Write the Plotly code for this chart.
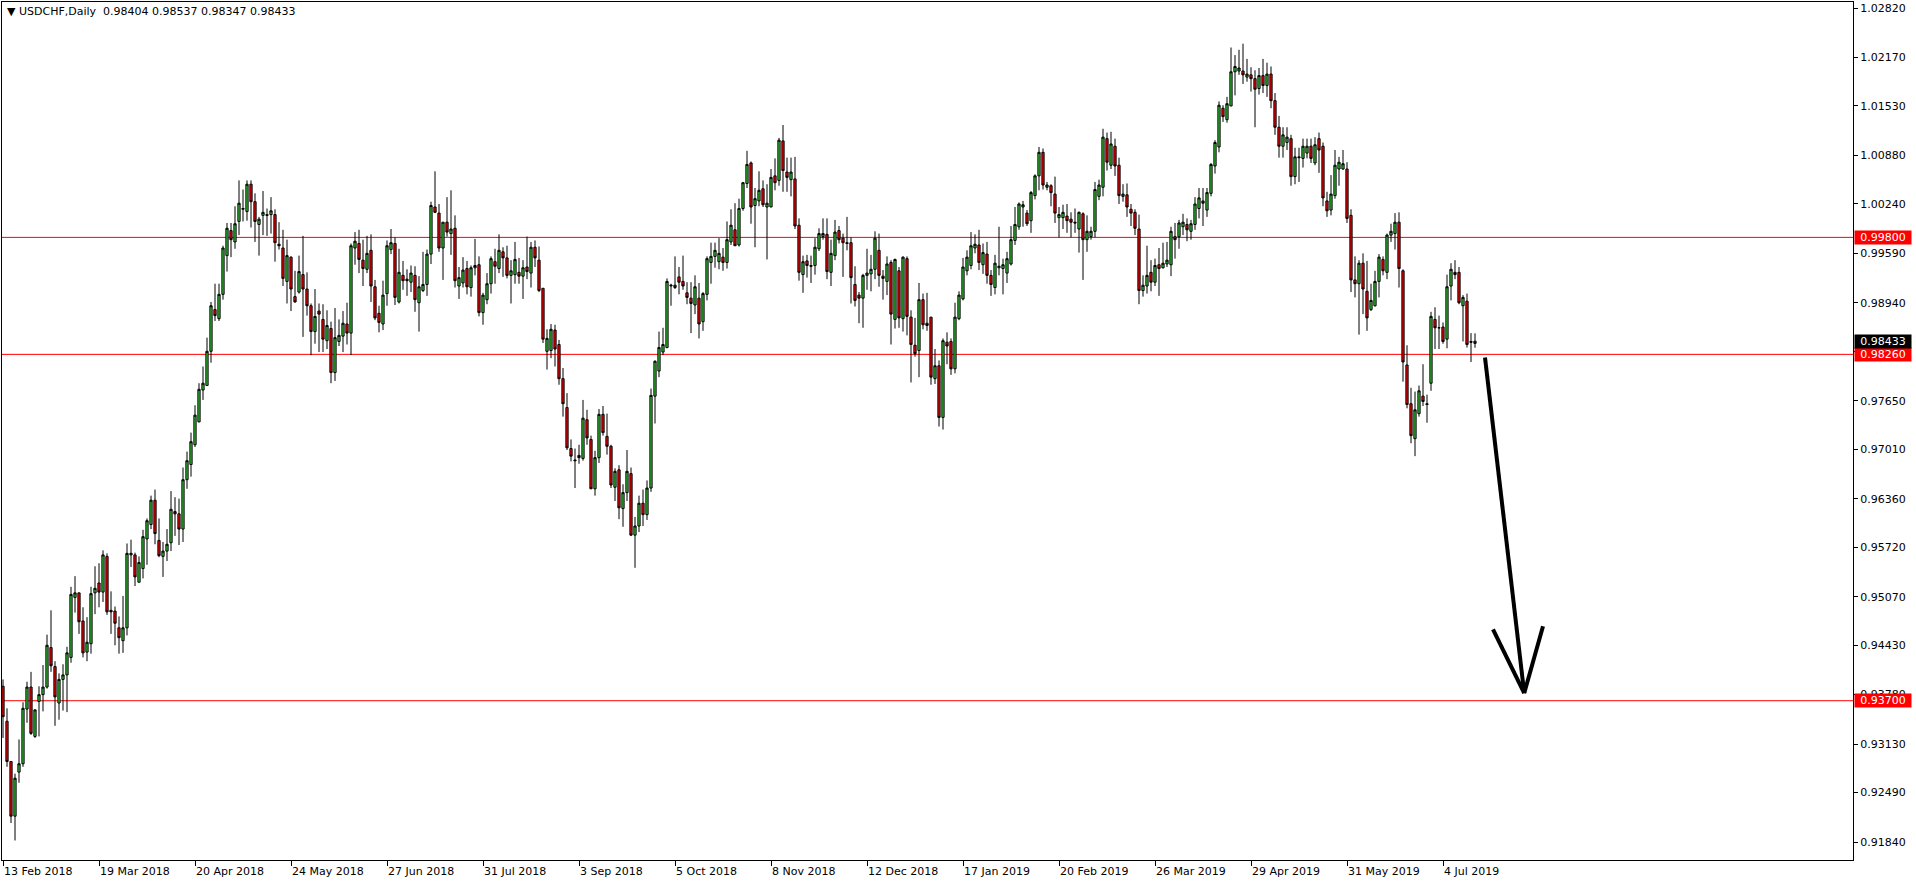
import plotly.graph_objects as go

# ---------------- data (USDCHF daily) ----------------
symbol = "USDCHF,Daily"

opens = [
    .9389, .9343, .9290, .9218, .9276, .9287, .9359, .9388, .9323, .9369,
    .9378, .9388, .9440, .9415, .9367, .9398, .9404, .9427, .9506, .9512,
    .9475, .9434, .9445, .9512, .9525, .9513, .9560, .9489, .9488, .9466,
    .9449, .9466, .9562, .9562, .9526, .9544, .9583, .9602, .9634, .9581,
    .9560, .9567, .9578, .9619, .9616, .9596, .9661, .9681, .9707, .9737,
    .9779, .9785, .9830, .9885, .9873, .9905, .9956, .9989, .9974, 1.0001,
    1.0017, 1.0014, 1.0050, 1.0027, .9997, 1.0009, 1.0010, 1.0010, 1.0010, .9971,
    .9966, .9922, .9954, .9902, .9908, .9931, .9912, .9890, .9856, .9883,
    .9872, .9844, .9860, .9802, .9843, .9850, .9866, .9854, .9966, .9972,
    .9950, .9938, .9963, .9915, .9880, .9866, .9906, .9964, .9972, .9895,
    .9930, .9925, .9921, .9930, .9894, .9910, .9918, .9958, 1.0020, 1.0012,
    .9966, 1.0000, .9985, .9992, .9916, .9920, .9939, .9914, .9940, .9944,
    .9881, .9898, .9919, .9948, .9939, .9961, .9953, .9930, .9931, .9934,
    .9929, .9941, .9933, .9967, .9950, .9913, .9830, .9831, .9858, .9839,
    .9794, .9756, .9702, .9687, .9693, .9689, .9740, .9714, .9649, .9690,
    .9747, .9718, .9705, .9651, .9674, .9623, .9644, .9669, .9588, .9600,
    .9630, .9615, .9650, .9771, .9804, .9829, .9835, .9916, .9914, .9928,
    .9922, .9907, .9900, .9891, .9900, .9869, .9905, .9947, .9955, .9948,
    .9954, .9947, .9974, .9990, .9970, 1.0018, 1.0051, 1.0078, 1.0022, 1.0028,
    1.0044, 1.0020, 1.0020, 1.0061, 1.0055, 1.0107, 1.0066, 1.0056, 1.0057, .9996,
    .9931, .9949, .9943, .9943, .9965, .9981, .9984, .9934, .9956, .9989,
    .9979, .9973, .9973, .9918, .9904, .9900, .9930, .9932, .9938, .9963,
    .9929, .9922, .9947, .9872, .9936, .9873, .9952, .9875, .9838, .9831,
    .9898, .9867, .9875, .9794, .9811, .9743, .9842, .9843, .9807, .9873,
    .9899, .9936, .9943, .9966, .9970, .9944, .9958, .9930, .9914, .9940,
    .9939, .9933, .9945, .9976, .9994, 1.0020, 1.0012, 1.0002, 1.0035, 1.0061,
    1.0092, 1.0046, 1.0048, 1.0037, 1.0006, 1.0006, 1.0008, 1.0004, 1.0000, .9991,
    1.0011, .9977, .9981, .9988, 1.0034, 1.0046, 1.0110, 1.0075, 1.0100, 1.0075,
    1.0034, 1.0036, 1.0017, 1.0013, .9991, .9910, .9916, .9934, .9921, .9944,
    .9940, .9945, .9944, .9981, .9981, .9994, .9997, .9988, .9997, 1.0018,
    1.0028, 1.0016, 1.0038, 1.0074, 1.0099, 1.0150, 1.0135, 1.0153, 1.0198, 1.0199,
    1.0199, 1.0191, 1.0194, 1.0189, 1.0176, 1.0193, 1.0180, 1.0195, 1.0160, 1.0125,
    1.0100, 1.0105, 1.0110, 1.0060, 1.0086, 1.0084, 1.0091, 1.0100, 1.0078, 1.0110,
    1.0100, 1.0028, 1.0016, 1.0035, 1.0070, 1.0070, 1.0070, 1.0009, .9924, .9919,
    .9946, .9909, .9885, .9890, .9922, .9951, .9934, .9983, .9985, 1.0000,
    .9936, .9812, .9761, .9715, .9748, .9771, .9761, .9788, .9872, .9861,
    .9862, .9846, .9916, .9934, .9934, .9890, .9896, .9843, .98404,
]

highs = [
    .9398, .9360, .9290, .9274, .9319, .9368, .9395, .9408, .9358, .9389,
    .9417, .9457, .9489, .9422, .9406, .9418, .9441, .9520, .9534, .9512,
    .9493, .9480, .9520, .9547, .9551, .9568, .9564, .9514, .9494, .9481,
    .9508, .9577, .9582, .9565, .9560, .9595, .9610, .9640, .9648, .9610,
    .9579, .9596, .9646, .9638, .9636, .9677, .9698, .9723, .9759, .9788,
    .9810, .9848, .9895, .9919, .9919, .9969, .9999, .9999, 1.0021, 1.0055,
    1.0043, 1.0055, 1.0055, 1.0038, 1.0007, 1.0041, 1.0018, 1.0033, 1.0017, 1.0000,
    .9990, .9977, .9955, .9936, .9956, .9982, .9934, .9893, .9912, .9893,
    .9892, .9884, .9869, .9887, .9872, .9883, .9894, .9972, .9987, .9990,
    .9977, .9982, .9984, .9924, .9890, .9923, .9976, .9991, .9980, .9965,
    .9949, .9938, .9943, .9942, .9929, .9961, .9964, 1.0027, 1.0067, 1.0024,
    1.0000, 1.0033, 1.0042, 1.0009, .9941, .9954, .9949, .9943, .9978, .9955,
    .9907, .9933, .9955, .9965, .9984, .9967, .9969, .9950, .9974, .9953,
    .9950, .9981, .9974, .9976, .9968, .9913, .9859, .9866, .9865, .9845,
    .9808, .9775, .9714, .9702, .9707, .9766, .9753, .9719, .9699, .9754,
    .9758, .9748, .9707, .9676, .9680, .9655, .9700, .9677, .9612, .9640,
    .9648, .9660, .9781, .9818, .9856, .9861, .9926, .9919, .9955, .9941,
    .9956, .9921, .9921, .9930, .9920, .9908, .9955, .9973, .9973, .9979,
    .9966, 1.0001, 1.0017, 1.0025, 1.0031, 1.0053, 1.0094, 1.0080, 1.0045, 1.0067,
    1.0055, 1.0050, 1.0070, 1.0084, 1.0111, 1.0128, 1.0085, 1.0085, 1.0086, 1.0005,
    .9956, .9957, .9956, .9979, .9992, 1.0005, 1.0005, .9977, 1.0003, .9995,
    .9985, 1.0007, .9980, .9942, .9908, .9932, .9965, .9957, .9988, .9985,
    .9937, .9955, .9950, .9952, .9941, .9955, .9955, .9884, .9874, .9920,
    .9906, .9907, .9875, .9833, .9818, .9847, .9855, .9847, .9894, .9909,
    .9953, .9963, .9987, .9984, .9990, .9972, .9974, .9937, .9957, .9994,
    .9952, .9961, .9995, 1.0020, 1.0026, 1.0028, 1.0016, 1.0041, 1.0063, 1.0099,
    1.0097, 1.0053, 1.0050, 1.0060, 1.0020, 1.0023, 1.0024, 1.0013, 1.0018, 1.0014,
    1.0013, 1.0009, .9994, 1.0053, 1.0056, 1.0123, 1.0118, 1.0119, 1.0110, 1.0085,
    1.0050, 1.0051, 1.0024, 1.0017, 1.0010, .9930, .9969, .9950, .9952, .9966,
    .9973, .9974, .9994, .9999, 1.0003, 1.0011, 1.0005, 1.0003, 1.0033, 1.0045,
    1.0045, 1.0045, 1.0078, 1.0108, 1.0159, 1.0154, 1.0165, 1.0230, 1.0220, 1.0227,
    1.0235, 1.0215, 1.0204, 1.0200, 1.0203, 1.0215, 1.0210, 1.0205, 1.0170, 1.0140,
    1.0125, 1.0125, 1.0115, 1.0098, 1.0098, 1.0110, 1.0110, 1.0110, 1.0112, 1.0118,
    1.0105, 1.0040, 1.0062, 1.0095, 1.0086, 1.0095, 1.0079, 1.0017, .9955, .9950,
    .9959, .9949, .9919, .9936, .9958, .9955, .9985, .9998, 1.0012, 1.0013,
    .9938, .9838, .9782, .9777, .9785, .9813, .9773, .9882, .9888, .9877,
    .9868, .9931, .9946, .9950, .9941, .9904, .9906, .9854, .98537,
]

lows = [
    .9321, .9283, .9209, .9186, .9262, .9283, .9341, .9325, .9321, .9323,
    .9356, .9386, .9408, .9337, .9345, .9357, .9355, .9420, .9486, .9458,
    .9427, .9422, .9432, .9484, .9493, .9500, .9483, .9458, .9443, .9432,
    .9433, .9456, .9546, .9521, .9526, .9531, .9549, .9596, .9576, .9559,
    .9533, .9554, .9567, .9587, .9575, .9579, .9649, .9665, .9704, .9737,
    .9766, .9785, .9815, .9870, .9870, .9898, .9935, .9954, .9965, .9983,
    1.0001, 1.0002, .9993, .9974, .9956, .9983, .9982, .9985, .9948, .9964,
    .9916, .9893, .9883, .9894, .9906, .9849, .9877, .9825, .9840, .9829,
    .9829, .9833, .9788, .9791, .9837, .9829, .9839, .9825, .9944, .9933,
    .9916, .9933, .9895, .9871, .9855, .9858, .9890, .9958, .9891, .9893,
    .9911, .9903, .9908, .9882, .9856, .9908, .9903, .9945, 1.0012, .9961,
    .9924, .9981, .9957, .9914, .9899, .9914, .9905, .9902, .9930, .9876,
    .9865, .9892, .9906, .9919, .9933, .9928, .9926, .9893, .9919, .9919,
    .9899, .9925, .9914, .9941, .9908, .9841, .9806, .9821, .9810, .9786,
    .9744, .9700, .9685, .9650, .9682, .9686, .9707, .9649, .9640, .9683,
    .9719, .9694, .9650, .9633, .9609, .9599, .9633, .9587, .9545, .9592,
    .9600, .9608, .9645, .9735, .9796, .9825, .9834, .9890, .9912, .9905,
    .9911, .9892, .9854, .9879, .9847, .9857, .9897, .9919, .9940, .9938,
    .9936, .9939, .9970, .9969, .9968, 1.0015, 1.0045, .9998, .9967, 1.0021,
    1.0020, .9951, 1.0020, 1.0042, 1.0048, 1.0040, 1.0040, 1.0034, .9991, .9923,
    .9907, .9927, .9920, .9931, .9962, .9977, .9925, .9916, .9950, .9972,
    .9928, .9963, .9893, .9889, .9867, .9861, .9911, .9909, .9925, .9915,
    .9898, .9904, .9839, .9860, .9861, .9856, .9851, .9789, .9823, .9796,
    .9859, .9857, .9786, .9787, .9731, .9727, .9813, .9799, .9801, .9871,
    .9897, .9930, .9938, .9959, .9937, .9932, .9919, .9903, .9905, .9930,
    .9905, .9920, .9943, .9970, .9990, .9994, .9995, .9986, 1.0030, 1.0042,
    1.0043, 1.0042, 1.0021, .9999, .9980, .9991, .9986, .9980, .9986, .9960,
    .9924, .9961, .9977, .9980, 1.0029, 1.0034, 1.0068, 1.0070, 1.0061, 1.0024,
    1.0027, 1.0007, .9995, .9983, .9892, .9902, .9906, .9909, .9916, .9903,
    .9939, .9941, .9929, .9952, .9965, .9983, .9975, .9977, .9990, 1.0005,
    .9995, 1.0007, 1.0034, 1.0064, 1.0092, 1.0132, 1.0131, 1.0153, 1.0167, 1.0194,
    1.0182, 1.0185, 1.0172, 1.0125, 1.0168, 1.0170, 1.0165, 1.0150, 1.0115, 1.0085,
    1.0085, 1.0095, 1.0048, 1.0050, 1.0053, 1.0072, 1.0084, 1.0078, 1.0075, 1.0065,
    1.0021, 1.0007, 1.0009, 1.0031, 1.0048, 1.0069, .9999, .9908, .9901, .9852,
    .9879, .9857, .9883, .9889, .9901, .9930, .9925, .9974, .9964, .9914,
    .9790, .9755, .9709, .9692, .9744, .9758, .9736, .9778, .9833, .9833,
    .9840, .9834, .9897, .9925, .9892, .9843, .9835, .9816, .98347,
]

closes = [
    .9349, .9290, .9218, .9268, .9287, .9360, .9388, .9327, .9358, .9378,
    .9388, .9443, .9416, .9375, .9398, .9404, .9433, .9510, .9512, .9474,
    .9433, .9447, .9511, .9518, .9513, .9562, .9487, .9487, .9472, .9453,
    .9466, .9564, .9564, .9533, .9552, .9586, .9607, .9634, .9590, .9561,
    .9567, .9576, .9622, .9616, .9596, .9661, .9686, .9711, .9746, .9780,
    .9788, .9830, .9890, .9877, .9905, .9966, .9992, .9977, .9998, 1.0025,
    1.0018, 1.0050, 1.0027, 1.0001, 1.0004, 1.0013, 1.0009, 1.0015, .9973, .9969,
    .9926, .9956, .9912, .9895, .9935, .9912, .9890, .9856, .9876, .9879,
    .9846, .9864, .9802, .9848, .9851, .9867, .9854, .9969, .9975, .9951,
    .9939, .9959, .9916, .9874, .9868, .9904, .9969, .9973, .9901, .9934,
    .9923, .9923, .9933, .9898, .9915, .9918, .9958, 1.0022, 1.0013, .9966,
    1.0000, .9987, .9991, .9923, .9927, .9937, .9915, .9940, .9943, .9881,
    .9904, .9919, .9952, .9942, .9963, .9953, .9930, .9936, .9951, .9929,
    .9940, .9935, .9967, .9953, .9910, .9846, .9847, .9859, .9833, .9794,
    .9761, .9703, .9692, .9686, .9690, .9742, .9716, .9649, .9690, .9747,
    .9723, .9705, .9654, .9672, .9624, .9644, .9672, .9588, .9600, .9630,
    .9615, .9650, .9772, .9817, .9835, .9839, .9922, .9917, .9917, .9921,
    .9916, .9901, .9893, .9915, .9866, .9906, .9952, .9955, .9963, .9959,
    .9947, .9977, .9996, .9969, 1.0018, 1.0052, 1.0076, 1.0020, 1.0031, 1.0042,
    1.0023, 1.0025, 1.0059, 1.0052, 1.0108, 1.0068, 1.0059, 1.0066, .9995, .9934,
    .9948, .9943, .9942, .9967, .9985, .9985, .9935, .9959, .9987, .9977,
    .9973, .9972, .9927, .9897, .9900, .9930, .9933, .9938, .9979, .9930,
    .9926, .9945, .9879, .9951, .9874, .9954, .9876, .9839, .9827, .9898,
    .9865, .9864, .9796, .9811, .9743, .9844, .9837, .9807, .9875, .9904,
    .9941, .9954, .9969, .9971, .9947, .9960, .9930, .9918, .9946, .9942,
    .9944, .9952, .9977, .9997, 1.0024, 1.0023, .9998, 1.0039, 1.0061, 1.0092,
    1.0049, 1.0049, 1.0039, 1.0012, 1.0010, 1.0013, 1.0002, 1.0000, .9999, 1.0013,
    .9977, .9988, .9988, 1.0043, 1.0049, 1.0112, 1.0079, 1.0103, 1.0074, 1.0035,
    1.0037, 1.0020, 1.0012, .9992, .9910, .9917, .9930, .9921, .9943, .9939,
    .9946, .9950, .9988, .9977, .9999, 1.0000, .9990, .9998, 1.0024, 1.0032,
    1.0025, 1.0039, 1.0076, 1.0105, 1.0154, 1.0139, 1.0156, 1.0198, 1.0205, 1.0203,
    1.0194, 1.0195, 1.0189, 1.0175, 1.0193, 1.0180, 1.0195, 1.0160, 1.0125, 1.0100,
    1.0115, 1.0112, 1.0060, 1.0086, 1.0085, 1.0100, 1.0100, 1.0084, 1.0102, 1.0095,
    1.0032, 1.0015, 1.0037, 1.0075, 1.0079, 1.0077, 1.0005, .9924, .9919, .9946,
    .9912, .9874, .9897, .9922, .9954, .9936, .9983, .9988, 1.0000, .9939,
    .9816, .9760, .9719, .9753, .9778, .9764, .9760, .9876, .9861, .9861,
    .9843, .9915, .9938, .9931, .9894, .9901, .9839, .9842, .98433,
]

date_labels = [
    "13 Feb 2018", "19 Mar 2018", "20 Apr 2018", "24 May 2018", "27 Jun 2018",
    "31 Jul 2018", "3 Sep 2018", "5 Oct 2018", "8 Nov 2018", "12 Dec 2018",
    "17 Jan 2019", "20 Feb 2019", "26 Mar 2019", "29 Apr 2019", "31 May 2019",
    "4 Jul 2019",
]
bars_per_label = 24

price_ticks = [
    1.02820, 1.02170, 1.01530, 1.00880, 1.00240, 0.99590, 0.98940, 0.98300,
    0.97650, 0.97010, 0.96360, 0.95720, 0.95070, 0.94430, 0.93780, 0.93130,
    0.92490, 0.91840,
]

levels = [0.99800, 0.98260, 0.93700]

# hand-drawn arrow (bar index, price)
arrow_tail = (370.5, 0.9822)
arrow_tip = (380.3, 0.9380)
arrow_left_arm = (372.5, 0.9464)
arrow_right_arm = (385.0, 0.9468)

# ---------------- figure ----------------
FONT = "DejaVu Sans"
GREEN = "#32CD32"
RED = "#FF0000"

x = list(range(len(opens)))

fig = go.Figure()
fig.add_trace(go.Candlestick(
    x=x, open=opens, high=highs, low=lows, close=closes,
    increasing=dict(line=dict(color="black", width=1), fillcolor=GREEN),
    decreasing=dict(line=dict(color="black", width=1), fillcolor=RED),
    whiskerwidth=0, showlegend=False, hoverinfo="skip",
))

shapes = []
for lv in levels:
    shapes.append(dict(type="line", xref="paper", x0=0, x1=1, yref="y", y0=lv, y1=lv,
                       line=dict(color="#FF0000", width=1), layer="below"))
for start in (arrow_tail, arrow_left_arm, arrow_right_arm):
    shapes.append(dict(type="line", xref="x", yref="y",
                       x0=start[0], y0=start[1], x1=arrow_tip[0], y1=arrow_tip[1],
                       line=dict(color="black", width=4)))

annotations = []
# title
annotations.append(dict(
    xref="paper", yref="paper", x=0, y=1, xanchor="left", yanchor="top",
    xshift=3, yshift=-1, showarrow=False, align="left",
    text="\u25bc " + symbol + "\u00a0\u00a0" + " ".join(
        f"{v:.5f}" for v in (opens[-1], highs[-1], lows[-1], closes[-1])),
    font=dict(family=FONT, size=11, color="black"),
))
# date labels, left aligned on their tick
for k, lab in enumerate(date_labels):
    annotations.append(dict(
        xref="x", yref="paper", x=k * bars_per_label, y=0, xanchor="left", yanchor="top",
        xshift=-1, yshift=-3, showarrow=False, text=lab,
        font=dict(family=FONT, size=11, color="black"),
    ))
# level price tags
for lv in levels:
    annotations.append(dict(
        xref="paper", yref="y", x=1, y=lv, xanchor="left", yanchor="middle",
        xshift=1, showarrow=False, text=f"{lv:.5f}", bgcolor="#FF0000",
        width=56, height=13, borderpad=0,
        font=dict(family=FONT, size=11, color="white"),
    ))
# current price tag
annotations.append(dict(
    xref="paper", yref="y", x=1, y=closes[-1], xanchor="left", yanchor="middle",
    xshift=1, showarrow=False, text=f"{closes[-1]:.5f}", bgcolor="black",
    width=56, height=13, borderpad=0,
    font=dict(family=FONT, size=11, color="white"),
))

fig.update_layout(
    width=1916, height=884,
    margin=dict(l=2, r=63, t=2, b=24),
    paper_bgcolor="white", plot_bgcolor="white",
    boxgap=0.2,
    showlegend=False,
    shapes=shapes, annotations=annotations,
    font=dict(family=FONT, size=11, color="black"),
    xaxis=dict(
        range=[-0.25, 462.5], rangeslider=dict(visible=False),
        tickmode="array", tickvals=[k * bars_per_label for k in range(len(date_labels))],
        showticklabels=False, ticks="outside", ticklen=5, tickcolor="black",
        showgrid=False, zeroline=False, showline=True, mirror=True,
        linecolor="black", linewidth=1, fixedrange=True,
    ),
    yaxis=dict(
        side="right", range=[0.91603, 1.02899],
        tickmode="array", tickvals=price_ticks, ticktext=[f"{v:.5f}" for v in price_ticks],
        ticks="outside", ticklen=4, tickcolor="black",
        tickfont=dict(family=FONT, size=11, color="black"),
        showgrid=False, zeroline=False, showline=True, mirror=True,
        linecolor="black", linewidth=1, fixedrange=True,
    ),
)

fig.write_html("out.html", config={"displayModeBar": False, "staticPlot": True},
               post_script="document.body.style.margin='0';")
